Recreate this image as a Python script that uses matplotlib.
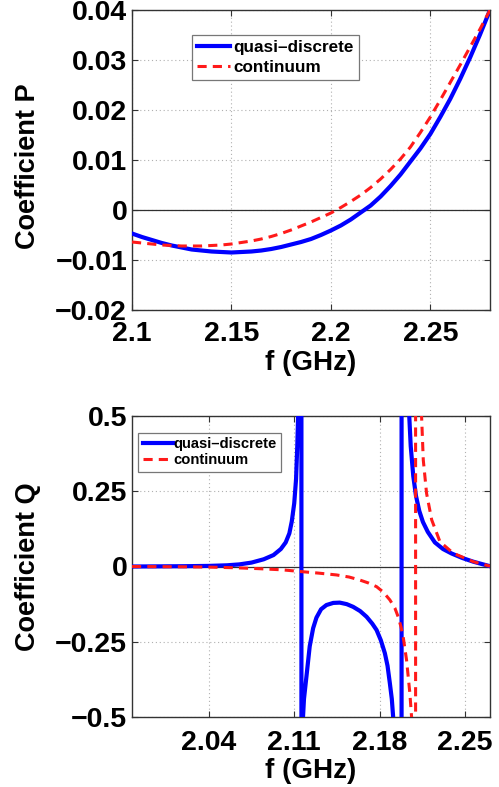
import matplotlib
matplotlib.use("Agg")
import matplotlib.pyplot as plt

plt.rcParams['font.family'] = ['Liberation Sans', 'DejaVu Sans']
plt.rcParams['font.weight'] = 'bold'

# ---------------- data: top panel (coefficient P) ----------------
f_P = [2.100, 2.105, 2.110, 2.115, 2.120, 2.125, 2.130, 2.135, 2.140, 2.145,
       2.150, 2.155, 2.160, 2.165, 2.170, 2.175, 2.180, 2.185, 2.190, 2.195,
       2.200, 2.205, 2.210, 2.215, 2.220, 2.225, 2.230, 2.235, 2.240, 2.245,
       2.250, 2.255, 2.260, 2.265, 2.270, 2.275, 2.280]
P_quasi = [-0.0047, -0.0054, -0.0060, -0.0066, -0.0071, -0.0075, -0.0079, -0.0081,
           -0.0083, -0.0084, -0.0085, -0.0084, -0.0083, -0.0081, -0.0078, -0.0074,
           -0.0069, -0.0064, -0.0058, -0.0050, -0.0041, -0.0031, -0.0019, -0.0005,
           0.0009, 0.0027, 0.0048, 0.0071, 0.0097, 0.0123, 0.0152, 0.0186,
           0.0222, 0.0262, 0.0305, 0.0351, 0.0400]
P_cont = [-0.0064, -0.0066, -0.0068, -0.0070, -0.0071, -0.0072, -0.0072, -0.0072,
          -0.0071, -0.0070, -0.0068, -0.0065, -0.0062, -0.0058, -0.0053, -0.0047,
          -0.0040, -0.0032, -0.0024, -0.0015, -0.0006, 0.0005, 0.0017, 0.0030,
          0.0045, 0.0062, 0.0081, 0.0102, 0.0126, 0.0155, 0.0186, 0.0220,
          0.0255, 0.0290, 0.0326, 0.0362, 0.0400]

# ---------------- data: bottom panel (coefficient Q) ----------------
f_Q_quasi = [1.977, 2.000, 2.020, 2.040, 2.055, 2.065, 2.075, 2.085, 2.093, 2.099,
             2.103, 2.106, 2.108, 2.110, 2.1115, 2.1125, 2.1132, 2.1145, 2.1159,
             2.1159, 2.1168, 2.1172, 2.1180, 2.1200, 2.1227, 2.1255, 2.1282, 2.1320,
             2.1364, 2.1420, 2.1473, 2.1530, 2.1583, 2.1640, 2.1693, 2.1740, 2.1775,
             2.1810, 2.1843, 2.1865, 2.1884, 2.1900, 2.1911, 2.1940, 2.1980,
             2.1980, 2.2030, 2.2043, 2.2055, 2.2076, 2.2098, 2.2125, 2.2155, 2.2195,
             2.2253, 2.2320, 2.2391, 2.2480, 2.2568, 2.2640, 2.2705]
Q_quasi = [0.0, 0.0005, 0.001, 0.002, 0.004, 0.007, 0.013, 0.024, 0.038, 0.058,
           0.080, 0.110, 0.150, 0.210, 0.290, 0.400, 0.500, 1.500, 5.0,
           -5.0, -1.0, -0.50, -0.44, -0.366, -0.265, -0.205, -0.170, -0.142,
           -0.128, -0.121, -0.120, -0.125, -0.134, -0.148, -0.167, -0.190, -0.211,
           -0.245, -0.288, -0.330, -0.388, -0.440, -0.500, -0.800, -5.0,
           5.0, 0.80, 0.50, 0.40, 0.30, 0.235, 0.185, 0.148, 0.115,
           0.080, 0.058, 0.043, 0.028, 0.016, 0.008, 0.001]

f_Q_cont = [1.977, 2.020, 2.040, 2.060, 2.080, 2.0899, 2.100, 2.1159, 2.130, 2.1446,
            2.155, 2.1638, 2.171, 2.1775, 2.183, 2.1884, 2.1925, 2.1952, 2.1975,
            2.1993, 2.2021, 2.2048, 2.2062, 2.2080, 2.2095,
            2.2095, 2.2120, 2.2144, 2.2158, 2.2185, 2.2227, 2.2295, 2.2404, 2.2568,
            2.2705]
Q_cont = [0.0, -0.001, -0.002, -0.004, -0.007, -0.009, -0.011, -0.017, -0.022, -0.028,
          -0.035, -0.045, -0.055, -0.067, -0.085, -0.111, -0.138, -0.167, -0.200,
          -0.233, -0.311, -0.421, -0.500, -1.0, -5.0,
          5.0, 1.0, 0.500, 0.354, 0.243, 0.155, 0.082, 0.044, 0.016,
          0.001]

# ---------------- tick labels ----------------
P_xticks = [2.1, 2.15, 2.2, 2.25]
P_xticklabels = ["2.1", "2.15", "2.2", "2.25"]
P_yticks = [-0.02, -0.01, 0.0, 0.01, 0.02, 0.03, 0.04]
P_yticklabels = ["\u22120.02", "\u22120.01", "0", "0.01", "0.02", "0.03", "0.04"]
Q_xticks = [2.04, 2.11, 2.18, 2.25]
Q_xticklabels = ["2.04", "2.11", "2.18", "2.25"]
Q_yticks = [-0.5, -0.25, 0.0, 0.25, 0.5]
Q_yticklabels = ["\u22120.5", "\u22120.25", "0", "0.25", "0.5"]

labels = ["quasi\u2013discrete", "continuum"]

W, H = 499, 787
fig = plt.figure(figsize=(W / 100, H / 100), dpi=100)
fig.patch.set_facecolor('white')

def px_axes(l, t, r, b):
    return fig.add_axes([l / W, 1 - b / H, (r - l) / W, (b - t) / H])

ax1 = px_axes(132, 10, 490, 310)
ax2 = px_axes(132, 416, 490, 717)

blue = '#0000ff'
red = '#ff1a1a'

def style(ax, xt, xtl, yt, ytl, xlim, ylim, ylabel, xpad):
    ax.set_xlim(*xlim)
    ax.set_ylim(*ylim)
    ax.set_xticks(xt)
    ax.set_xticklabels(xtl)
    ax.set_yticks(yt)
    ax.set_yticklabels(ytl)
    ax.grid(True, linestyle=(0, (1, 2.5)), color='#b0b0b0', linewidth=0.8)
    ax.set_axisbelow(True)
    ax.axhline(0, color='#303030', linewidth=0.9, zorder=1.5)
    ax.tick_params(direction='in', length=4, width=0.8, top=True, right=True,
                   labelsize=20.5, color='#333333')
    ax.tick_params(axis='x', pad=xpad)
    ax.tick_params(axis='y', pad=3.5)
    for lab in ax.get_xticklabels() + ax.get_yticklabels():
        lab.set_fontweight('bold')
    for s in ax.spines.values():
        s.set_color('#333333')
        s.set_linewidth(1.0)
    ax.set_xlabel("f (GHz)", fontsize=20, fontweight='bold')
    ax.set_ylabel(ylabel, fontsize=19.5, fontweight='bold')

# top panel
ax1.plot(f_P, P_quasi, color=blue, linewidth=3.0, label=labels[0], zorder=3)
ax1.plot(f_P, P_cont, color=red, linewidth=2.2, dashes=(3, 2), label=labels[1], zorder=4)
style(ax1, P_xticks, P_xticklabels, P_yticks, P_yticklabels,
      (2.1, 2.28), (-0.02, 0.04), "Coefficient P", 8.0)
ax1.xaxis.set_label_coords(0.5, -0.134)
ax1.yaxis.set_label_coords(-0.255, 0.48)
leg1 = ax1.legend(loc='upper left', bbox_to_anchor=(0.167, 0.917), borderaxespad=0,
                  fontsize=12.3, handlelength=1.95, handletextpad=0.2,
                  fancybox=False, framealpha=1, edgecolor='#777777',
                  borderpad=0.3, labelspacing=0.3)
leg1.get_frame().set_linewidth(0.9)
for t in leg1.get_texts():
    t.set_fontweight('bold')

# bottom panel
ax2.plot(f_Q_quasi, Q_quasi, color=blue, linewidth=3.0, label=labels[0], zorder=3)
ax2.plot(f_Q_cont, Q_cont, color=red, linewidth=2.2, dashes=(3, 2), label=labels[1], zorder=4)
style(ax2, Q_xticks, Q_xticklabels, Q_yticks, Q_yticklabels,
      (1.977, 2.2705), (-0.5, 0.5), "Coefficient Q", 9.0)
ax2.xaxis.set_label_coords(0.5, -0.135)
ax2.yaxis.set_label_coords(-0.255, 0.5)
leg2 = ax2.legend(loc='upper left', bbox_to_anchor=(0.017, 0.944), borderaxespad=0,
                  fontsize=10.6, handlelength=2.05, handletextpad=0.05,
                  fancybox=False, framealpha=1, edgecolor='#777777',
                  borderpad=0.3, labelspacing=0.15)
leg2.get_frame().set_linewidth(0.9)
for t in leg2.get_texts():
    t.set_fontweight('bold')

fig.savefig("out.png", dpi=100, facecolor='white')
